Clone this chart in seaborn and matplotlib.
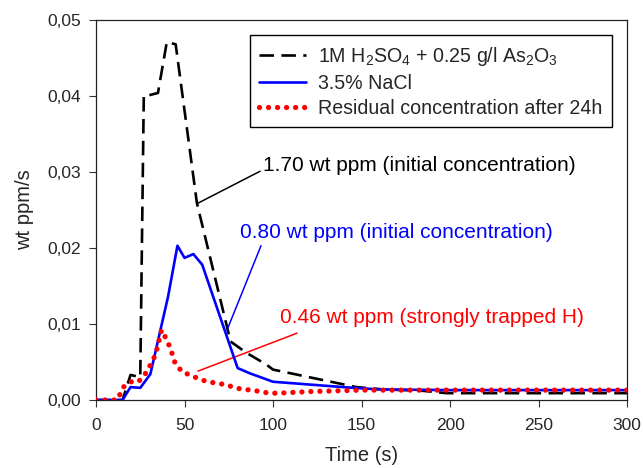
import numpy as np
import pandas as pd
import matplotlib
matplotlib.use("Agg")
import matplotlib.pyplot as plt
from matplotlib.ticker import FuncFormatter
import seaborn as sns

# --- data ---
t_acid = [0, 5, 10, 15, 19.5, 25, 27, 30, 35, 40, 45, 57, 76, 85, 96, 100, 147, 162, 185, 198, 250, 300]
h_acid = [0, 0, 0, 0, 0.0033, 0.0030, 0.0401, 0.0401, 0.0404, 0.0471, 0.0468, 0.0259, 0.0077,
          0.0062, 0.0047, 0.0040, 0.0017, 0.0014, 0.0012, 0.0009, 0.0009, 0.0009]

t_nacl = [0, 5, 10, 15, 19.5, 25, 30.7, 40.7, 46, 50, 55, 60, 80, 87, 100, 145, 160, 200, 250, 300]
h_nacl = [0, 0, 0, 0, 0.0017, 0.0016, 0.0034, 0.0136, 0.0203, 0.0187, 0.0192, 0.0178, 0.0042,
          0.0035, 0.0024, 0.0016, 0.0014, 0.0013, 0.0013, 0.0013]

t_resid = [0, 5, 10, 12, 15.5, 19.5, 24, 28, 30.7, 33.5, 35, 37, 40, 42, 44.6, 48.6, 53, 58, 63,
           68.5, 73.6, 78.7, 83, 88, 93, 98, 103, 120, 150, 200, 250, 300]
h_resid = [0, 0, 0, 0, 0.0017, 0.0024, 0.0024, 0.0035, 0.0046, 0.0059, 0.0072, 0.0092, 0.0079,
           0.0068, 0.0049, 0.0037, 0.0033, 0.0028, 0.0024, 0.0022, 0.0020, 0.0016, 0.0014,
           0.0013, 0.0011, 0.0009, 0.0009, 0.0011, 0.0013, 0.0013, 0.0013, 0.0013]

labels = [r"1M H$_\mathregular{2}$SO$_\mathregular{4}$ + 0.25 g/l As$_\mathregular{2}$O$_\mathregular{3}$",
          "3.5% NaCl",
          "Residual concentration after 24h"]

sns.set_style("ticks")
plt.rcParams["font.family"] = ["Liberation Sans", "DejaVu Sans"]
plt.rcParams["mathtext.fontset"] = "custom"
plt.rcParams["mathtext.rm"] = "Liberation Sans"

fig = plt.figure(figsize=(6.43, 4.68), dpi=100)
ax = fig.add_axes([0.1493, 0.1453, 0.8260, 0.8120])

df_acid = pd.DataFrame({"t": t_acid, "h": h_acid})
df_nacl = pd.DataFrame({"t": t_nacl, "h": h_nacl})
df_resid = pd.DataFrame({"t": t_resid, "h": h_resid})

sns.lineplot(data=df_acid, x="t", y="h", ax=ax, color="black", lw=1.9,
             label=labels[0], zorder=2)
ax.lines[-1].set_dashes((5.5, 2.8))
sns.lineplot(data=df_nacl, x="t", y="h", ax=ax, color="#0000ff", lw=1.9,
             label=labels[1], zorder=3)
sns.lineplot(data=df_resid, x="t", y="h", ax=ax, color="#ff0000", lw=3.8,
             label=labels[2], zorder=4)
ax.lines[-1].set_linestyle((0, (0.01, 1.7)))
ax.lines[-1].set_dash_capstyle("round")

ax.set_xlim(0, 300)
ax.set_ylim(0, 0.05)
ax.set_xticks(np.arange(0, 301, 50))
ax.set_yticks(np.arange(0, 0.0501, 0.01))
ax.yaxis.set_major_formatter(FuncFormatter(lambda v, p: f"{v:.2f}".replace(".", ",")))
ax.tick_params(direction="out", length=5, width=0.8, labelsize=12.5, color="#333333")
ax.tick_params(axis="x", pad=8)
ax.tick_params(axis="y", pad=6)
for s in ax.spines.values():
    s.set_visible(True)
    s.set_linewidth(0.9)
    s.set_color("#222222")

ax.set_xlabel("Time (s)", fontsize=14.5, labelpad=9)
ax.set_ylabel("wt ppm/s", fontsize=14.5, labelpad=9)

leg = ax.legend(loc="upper right", bbox_to_anchor=(0.972, 0.9605), fontsize=14.1,
                frameon=True, fancybox=False, framealpha=1, edgecolor="black",
                handlelength=2.4, handletextpad=0.6, labelspacing=0.3, borderpad=0.5,
                borderaxespad=0)
leg.get_frame().set_linewidth(1.0)

# annotations (text + leader lines)
ax.text(94.3, 0.0309, "1.70 wt ppm (initial concentration)", color="black", fontsize=15,
        ha="left", va="center")
ax.plot([92.7, 57.6], [0.0301, 0.0259], color="black", lw=1.1)
ax.text(81.4, 0.0221, "0.80 wt ppm (initial concentration)", color="#0000ff", fontsize=15,
        ha="left", va="center")
ax.plot([93.2, 74.0], [0.0203, 0.0092], color="#0000ff", lw=1.1)
ax.text(104.0, 0.0108, "0.46 wt ppm (strongly trapped H)", color="#ff0000", fontsize=15,
        ha="left", va="center")
ax.plot([113.6, 57.6], [0.0088, 0.0038], color="#ff0000", lw=1.1)

fig.savefig("out.png", dpi=100)
